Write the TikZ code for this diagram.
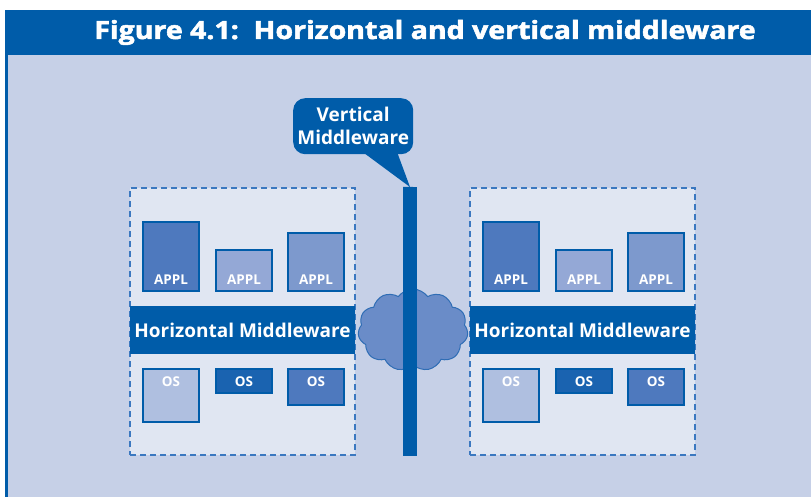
\documentclass[tikz,border=0pt]{standalone}
\usepackage{fontspec}
\setmainfont{Open Sans}
\newfontfamily\titlefont{Open Sans}[BoldFeatures={FakeBold=2}]
\usetikzlibrary{shapes.symbols}
\definecolor{mwblue}{HTML}{005CA9}
\definecolor{panelbg}{HTML}{C6D0E7}
\definecolor{hostfill}{HTML}{E0E6F2}
\definecolor{dashblue}{HTML}{3B78C0}
\definecolor{shadeA}{HTML}{4E79BE}
\definecolor{shadeB}{HTML}{94A8D6}
\definecolor{shadeC}{HTML}{7D99CD}
\definecolor{shadeD}{HTML}{AFBFE0}
\definecolor{shadeE}{HTML}{1A63B0}
\definecolor{cloudfill}{HTML}{6A8CC8}
\definecolor{cloudline}{HTML}{2F6DB5}
\tikzset{
  blk/.style={draw=mwblue, line width=1.5pt, inner sep=0pt, outer sep=0pt, anchor=north west},
  host/.style={draw=dashblue, fill=hostfill, line width=1.8pt, dash pattern=on 6pt off 4pt, inner sep=0pt, outer sep=0pt, anchor=north west, minimum width=225pt, minimum height=267pt},
  hbar/.style={fill=mwblue, inner sep=0pt, outer sep=0pt, anchor=north west, minimum width=225pt, minimum height=48pt, text=white, font=\bfseries\fontsize{19}{21}\selectfont},
  smalltxt/.style={text=white, font=\bfseries\fontsize{13.5}{14}\selectfont, inner sep=0pt, anchor=base},
}
\begin{document}
\begin{tikzpicture}[x=1pt, y=-1pt]
\useasboundingbox (0,0) rectangle (811,497);
% frame, header and panel
\fill[white] (0,0) rectangle (811,497);
\fill[panelbg] (5,55) rectangle (811,497);
\fill[mwblue] (5,55) rectangle (8,497);
\fill[mwblue] (5,10) rectangle (811,55);
\node[text=white, font=\titlefont\bfseries\fontsize{25}{28}\selectfont, anchor=base, inner sep=0pt] (title) at (425,39) {\scalebox{1.14}[1]{Figure 4.1:\ \ Horizontal and vertical middleware}};

% the two hosts, each with applications, middleware and operating systems
\foreach \s/\dx in {L/0, R/340} {
  \node[host] (host\s) at (130+\dx,188) {};
  \node[blk, fill=shadeA, minimum width=56pt, minimum height=69pt] (appA\s) at (143+\dx,222) {};
  \node[blk, fill=shadeB, minimum width=56pt, minimum height=41pt] (appB\s) at (216+\dx,250) {};
  \node[blk, fill=shadeC, minimum width=56pt, minimum height=58pt] (appC\s) at (288+\dx,233) {};
  \foreach \a in {A,B,C} {
    \node[smalltxt] (appT\a\s) at ([yshift=7pt]app\a\s.south) {APPL};
  }
  \node[hbar] (hmw\s) at (130+\dx,306) {Horizontal Middleware};
  \node[blk, fill=shadeD, minimum width=56pt, minimum height=53pt] (osA\s) at (143+\dx,369) {};
  \node[blk, fill=shadeE, minimum width=56pt, minimum height=24pt] (osB\s) at (216+\dx,369) {};
  \node[blk, fill=shadeA, minimum width=56pt, minimum height=36pt] (osC\s) at (288+\dx,369) {};
  \foreach \a in {A,B,C} {
    \node[smalltxt] (osT\a\s) at ([yshift=-17pt]os\a\s.north) {OS};
  }
}

% network cloud between the hosts
\node[cloud, cloud puffs=11, cloud puff arc=110, aspect=1.3, draw=cloudline, fill=cloudfill, line width=1pt, minimum width=110pt, minimum height=82pt, inner sep=0pt] (net) at (413,330) {};

% vertical middleware bar and its callout
\node[fill=mwblue, inner sep=0pt, outer sep=0pt, anchor=north west, minimum width=14pt, minimum height=269pt] (vbar) at (403,187) {};
\node[fill=mwblue, rounded corners=12pt, inner sep=0pt, minimum width=120pt, minimum height=56pt, anchor=north west, text=white, align=center, font=\bfseries\fontsize{19}{23}\selectfont] (vmw) at (293,98) {Vertical\\Middleware};
\fill[mwblue] (vmw.south) ++(10,-2) -- ++(34,0) -- (vbar.north) ++(3,0) -- (vbar.north west) -- cycle;
\end{tikzpicture}
\end{document}
